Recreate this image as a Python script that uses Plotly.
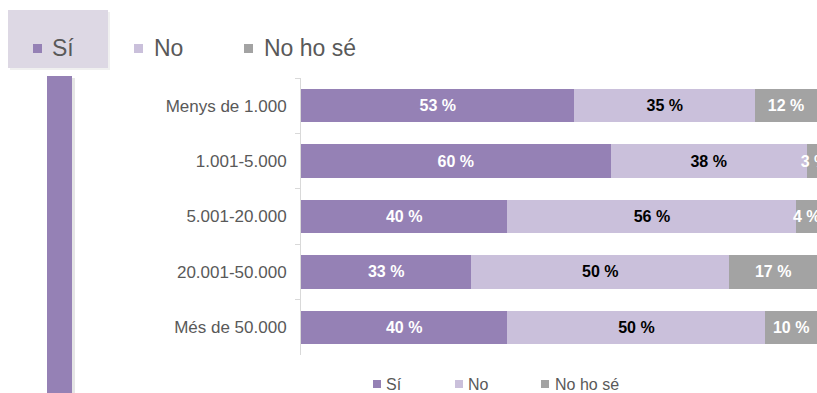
import plotly.graph_objects as go

categories = ["Menys de 1.000", "1.001-5.000", "5.001-20.000", "20.001-50.000", "Més de 50.000"]
si_vals = [53, 60, 40, 33, 40]
no_vals = [35, 38, 56, 50, 50]
nhs_vals = [12, 3, 4, 17, 10]
series_names = ["Sí", "No", "No ho sé"]

C_SI = "#9581B5"
C_NO = "#CAC0DB"
C_NHS = "#A3A3A3"
TXT = "#595959"
FONT = "Liberation Sans, Arial, sans-serif"

W, H = 817, 393
# plot area in window pixels
PL, PR, PT, PB = 301, 817, 78, 355
L, R, T, B = PL, W - PR, PT, H - PB
PW, PH = PR - PL, PB - PT


def px(x):
    return (x - PL) / PW


def py(y):
    return (PB - y) / PH


fig = go.Figure()
for name, vals, col, tcol in [
    (series_names[0], si_vals, C_SI, "white"),
    (series_names[1], no_vals, C_NO, "black"),
    (series_names[2], nhs_vals, C_NHS, "white"),
]:
    fig.add_trace(go.Bar(
        y=categories, x=vals, name=name, orientation="h",
        marker=dict(color=col, line=dict(width=0)),
        texttemplate="%{x} %", textposition="inside", insidetextanchor="middle", textangle=0,
        textfont=dict(color=tcol, size=16, family=FONT, weight="bold"),
        showlegend=False, hoverinfo="skip",
    ))

shapes = []
# decorative left vertical bar with shadow
shapes.append(dict(type="rect", xref="paper", yref="paper", x0=px(49), x1=px(75), y0=py(78), y1=py(400),
                   fillcolor="rgba(0,0,0,0.10)", line=dict(width=0), layer="below"))
shapes.append(dict(type="rect", xref="paper", yref="paper", x0=px(47), x1=px(72), y0=py(76), y1=py(400),
                   fillcolor=C_SI, line=dict(width=0), layer="below"))
# top-left highlighted box with shadow
shapes.append(dict(type="rect", xref="paper", yref="paper", x0=px(10), x1=px(110), y0=py(12), y1=py(70),
                   fillcolor="rgba(0,0,0,0.06)", line=dict(width=0), layer="below"))
shapes.append(dict(type="rect", xref="paper", yref="paper", x0=px(8), x1=px(108), y0=py(10), y1=py(68),
                   fillcolor="#DDD8E4", line=dict(width=0), layer="below"))

annotations = []
# top legend
top_items = [(33, 51, series_names[0], C_SI), (134, 153, series_names[1], C_NO), (244, 263, series_names[2], C_NHS)]
for sx, tx, name, col in top_items:
    shapes.append(dict(type="rect", xref="paper", yref="paper", x0=px(sx), x1=px(sx + 9), y0=py(44), y1=py(53),
                       fillcolor=col, line=dict(width=0)))
    annotations.append(dict(xref="paper", yref="paper", x=px(tx - 1), y=py(48), text=name, showarrow=False,
                            xanchor="left", yanchor="middle",
                            font=dict(size=23, color=TXT, family=FONT)))
# bottom legend
bot_items = [(373, 385, series_names[0], C_SI), (455, 467, series_names[1], C_NO), (541, 554, series_names[2], C_NHS)]
for sx, tx, name, col in bot_items:
    shapes.append(dict(type="rect", xref="paper", yref="paper", x0=px(sx), x1=px(sx + 8), y0=py(380), y1=py(388),
                       fillcolor=col, line=dict(width=0)))
    annotations.append(dict(xref="paper", yref="paper", x=px(tx - 1), y=py(384), text=name, showarrow=False,
                            xanchor="left", yanchor="middle",
                            font=dict(size=16, color=TXT, family=FONT)))

fig.update_layout(
    barmode="stack", bargap=0.4,
    width=W, height=H,
    margin=dict(l=L, r=R, t=T, b=B, pad=0),
    paper_bgcolor="white", plot_bgcolor="white",
    uniformtext=dict(minsize=16, mode="show"),
    showlegend=False,
    shapes=shapes, annotations=annotations,
    xaxis=dict(range=[0, 100], visible=False, showgrid=False, zeroline=False),
    yaxis=dict(categoryorder="array", categoryarray=categories, autorange="reversed",
               showline=True, linecolor="#D9D9D9", linewidth=1,
               ticks="outside", tickson="boundaries", ticklen=5, tickcolor="#D9D9D9",
               tickfont=dict(size=17, color=TXT, family=FONT), showgrid=False,
               ticklabelstandoff=10),
)

fig.write_html(
    "out.html",
    config={"displayModeBar": False},
    post_script="document.body.style.margin='0px';document.documentElement.style.overflow='hidden';",
)
